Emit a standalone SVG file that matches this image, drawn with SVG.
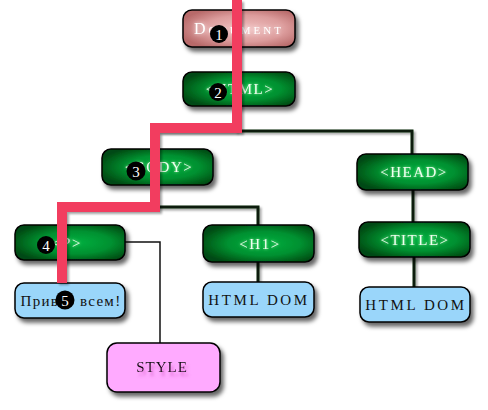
<svg xmlns="http://www.w3.org/2000/svg" width="488" height="410" viewBox="0 0 488 410">
<defs>
<radialGradient id="gGreen" cx="0.55" cy="0.5" r="0.6">
<stop offset="0" stop-color="#00b040"/>
<stop offset="0.55" stop-color="#009030"/>
<stop offset="1" stop-color="#004a12"/>
</radialGradient>
<radialGradient id="gDoc" cx="0.55" cy="0.5" r="0.6">
<stop offset="0" stop-color="#f0c0c0"/>
<stop offset="0.6" stop-color="#dc9c9c"/>
<stop offset="1" stop-color="#b86a6a"/>
</radialGradient>
<filter id="shadow" x="-20%" y="-30%" width="150%" height="180%">
<feDropShadow dx="3" dy="4" stdDeviation="2" flood-color="#000" flood-opacity="0.6"/>
</filter>
<filter id="lshadow" filterUnits="userSpaceOnUse" x="0" y="0" width="488" height="410">
<feDropShadow dx="2" dy="2" stdDeviation="1.2" flood-color="#000" flood-opacity="0.35"/>
</filter>
<filter id="glow" x="-20%" y="-50%" width="140%" height="200%">
<feGaussianBlur in="SourceAlpha" stdDeviation="1.8" result="b"/>
<feFlood flood-color="#b0ffb0" flood-opacity="0.85"/>
<feComposite in2="b" operator="in" result="g"/>
<feMerge><feMergeNode in="g"/><feMergeNode in="SourceGraphic"/></feMerge>
</filter>
<filter id="glowPink" x="-20%" y="-50%" width="140%" height="200%">
<feGaussianBlur in="SourceAlpha" stdDeviation="2" result="b"/>
<feFlood flood-color="#ffffff" flood-opacity="0.9"/>
<feComposite in2="b" operator="in" result="g"/>
<feMerge><feMergeNode in="g"/><feMergeNode in="SourceGraphic"/></feMerge>
</filter>
<filter id="styleShadow" x="-20%" y="-50%" width="140%" height="200%">
<feGaussianBlur in="SourceAlpha" stdDeviation="1.5" result="b"/>
<feOffset in="b" dx="2" dy="4" result="o"/>
<feFlood flood-color="#d050c0" flood-opacity="0.7"/>
<feComposite in2="o" operator="in" result="g"/>
<feMerge><feMergeNode in="g"/><feMergeNode in="SourceGraphic"/></feMerge>
</filter>
</defs>
<style>
.box{stroke:#000;stroke-width:1.5;filter:url(#shadow)}
.green{fill:url(#gGreen)}
.doc{fill:url(#gDoc)}
.blue{fill:#9ad6fa}
.pink{fill:#ffaaff}
.gt{font-family:"Liberation Serif",serif;font-size:15px;letter-spacing:1.5px;fill:#f0fff0;text-anchor:middle;filter:url(#glow)}
.bt{font-family:"Liberation Serif",serif;font-size:15px;letter-spacing:2.6px;fill:#111;text-anchor:middle}
.conn{fill:none;stroke:#0b1f0b;stroke-width:3;filter:url(#lshadow)}
.thin{fill:none;stroke:#111;stroke-width:1.5}
.path{fill:none;stroke:#f23c5e;stroke-width:10;stroke-linejoin:miter;filter:url(#lshadow)}
.num circle{fill:#000}
.num text{font-family:"Liberation Serif",serif;font-size:15px;fill:#fff;text-anchor:middle}
</style>
<rect width="488" height="410" fill="#fff"/>
<g id="connectors">
<path class="conn" d="M237,47 V72"/>
<path class="conn" d="M237,106 V131 H412 V154"/>
<path class="conn" d="M237,131 H155 V149"/>
<path class="conn" d="M155,185 V207 H258 V225"/>
<path class="conn" d="M155,207 H62 V225"/>
<path class="conn" d="M62,260 V283"/>
<path class="conn" d="M258,262 V282"/>
<path class="conn" d="M413,190 V222"/>
<path class="conn" d="M414,257 V287"/>
<path class="thin" d="M125,242 H160 V343"/>
</g>
<g id="node-document">
<rect class="box doc" x="183" y="10" width="112" height="37" rx="9"/>
<text x="239" y="34" style="font-family:'Liberation Serif',serif;font-size:16px;letter-spacing:3px;fill:#fff;text-anchor:middle;font-variant:small-caps;filter:url(#glowPink)">Document</text>
</g>
<g id="node-html">
<rect class="box green" x="183" y="72" width="112" height="34" rx="9"/>
<text class="gt" x="240" y="94">&lt;HTML&gt;</text>
</g>
<g id="node-body">
<rect class="box green" x="102" y="149" width="111" height="36" rx="9"/>
<text class="gt" x="159" y="172">&lt;BODY&gt;</text>
</g>
<g id="node-head">
<rect class="box green" x="357" y="154" width="111" height="36" rx="9"/>
<text class="gt" x="414" y="177">&lt;HEAD&gt;</text>
</g>
<g id="node-p">
<rect class="box green" x="15" y="225" width="110" height="35" rx="9"/>
<text class="gt" x="67" y="248">&lt;P&gt;</text>
</g>
<g id="node-h1">
<rect class="box green" x="203" y="225" width="111" height="37" rx="9"/>
<text class="gt" x="260" y="249">&lt;H1&gt;</text>
</g>
<g id="node-title">
<rect class="box green" x="359" y="222" width="111" height="35" rx="9"/>
<text class="gt" x="415" y="245">&lt;TITLE&gt;</text>
</g>
<g id="node-text-p">
<rect class="box blue" x="15" y="283" width="110" height="35" rx="9"/>
<text class="bt" x="71" y="306" style="letter-spacing:1.3px">Привет всем!</text>
</g>
<g id="node-text-h1">
<rect class="box blue" x="203" y="282" width="111" height="35" rx="9"/>
<text class="bt" x="259" y="305">HTML DOM</text>
</g>
<g id="node-text-title">
<rect class="box blue" x="360" y="287" width="110" height="35" rx="9"/>
<text class="bt" x="416" y="310">HTML DOM</text>
</g>
<g id="node-style">
<rect class="box pink" x="107" y="343" width="113" height="49" rx="10"/>
<text class="bt" x="162" y="372" style="letter-spacing:1px;filter:url(#styleShadow)">STYLE</text>
</g>
<g id="traversal">
<path class="path" d="M237,0 V128 H155 V207 H62 V283"/>
</g>
<g id="steps" class="num">
<circle cx="219" cy="34" r="9"/><text x="219" y="39.5">1</text>
<circle cx="218" cy="92" r="9"/><text x="218" y="97.5">2</text>
<circle cx="136" cy="171" r="9.5"/><text x="136" y="176.5">3</text>
<circle cx="46" cy="245" r="9"/><text x="46" y="250.5">4</text>
<circle cx="65" cy="300" r="9.5"/><text x="65" y="305.5">5</text>
</g>
</svg>
